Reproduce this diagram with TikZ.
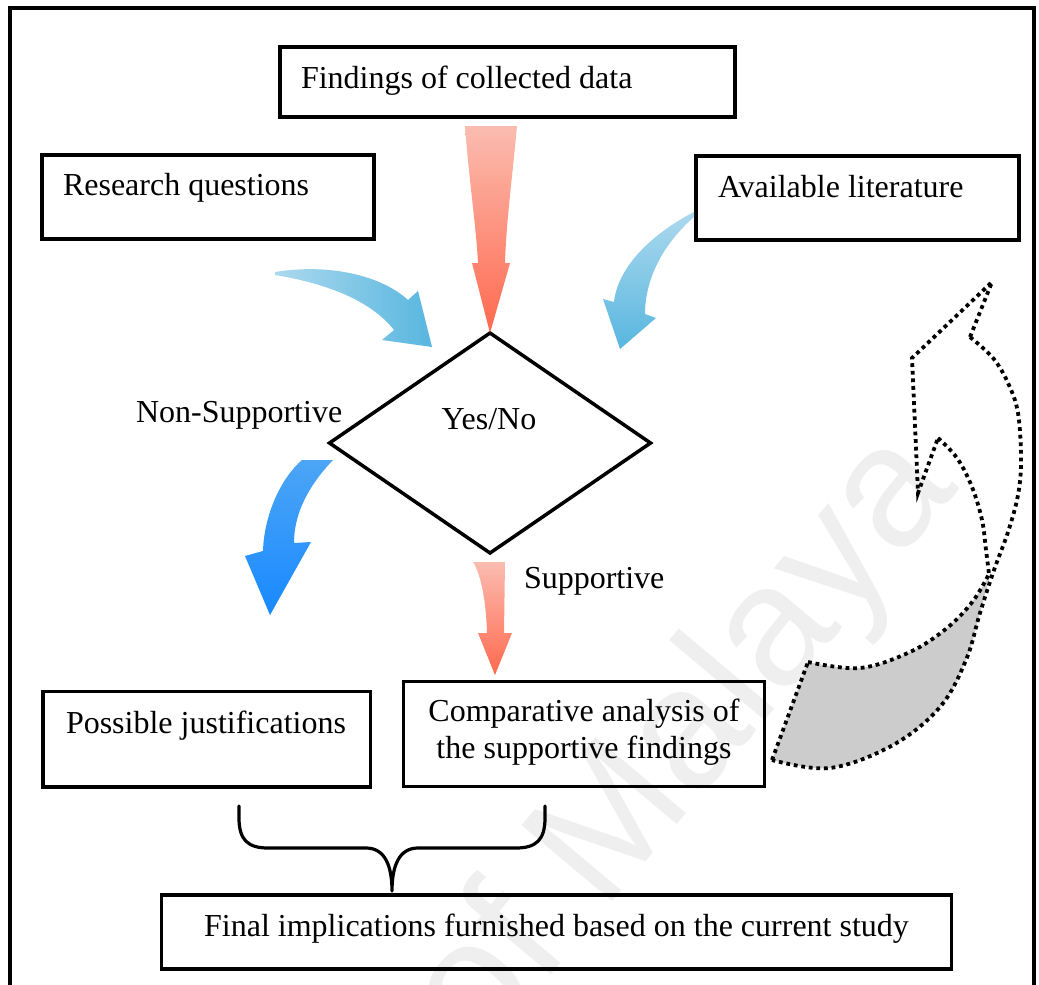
\documentclass[tikz,border=0pt]{standalone}
\usepackage{fontspec}
\usetikzlibrary{shapes.geometric}
\setmainfont{Liberation Serif}
\newfontfamily\wmfont{Liberation Sans}
\definecolor{redtop}{RGB}{251,188,176}
\definecolor{redbot}{RGB}{255,105,78}
\definecolor{skylt}{RGB}{172,217,238}
\definecolor{skydk}{RGB}{88,182,223}
\definecolor{bluelt}{RGB}{76,165,245}
\definecolor{bluedk}{RGB}{24,137,255}
\definecolor{foldgray}{RGB}{204,204,204}
\definecolor{wmgray}{RGB}{239,239,239}
\begin{document}
\begin{tikzpicture}[x=1pt,y=-1pt,
  every node/.style={inner sep=0pt, outer sep=0pt},
  box/.style={draw, line width=3.8pt, rectangle},
  txt/.style={font=\fontsize{32}{37}\selectfont},
  lbl/.style={txt, anchor=base west},
  dotline/.style={line width=3.8pt, dash pattern=on 3.8pt off 3.8pt, line cap=butt, line join=miter}]
\useasboundingbox (0,0) rectangle (1039,985);

% watermark
\node[font=\wmfont\fontsize{172}{172}\selectfont, text=wmgray, rotate=50, anchor=base east]
  (wm) at (960,488) {University of Malaya};

% outer frame
\draw[line width=4pt] (9.5,1000) -- (9.5,8) -- (1034,8) -- (1034,1000);

% boxes
\node[box, minimum width=455pt, minimum height=70pt] (find) at (507.5,82) {};
\node[box, minimum width=332pt, minimum height=84pt] (rq) at (208,197) {};
\node[box, minimum width=323pt, minimum height=84pt] (lit) at (857.5,198) {};
\node[box, minimum width=327.5pt, minimum height=95.5pt] (just) at (206.75,739.25) {};
\node[box, minimum width=361pt, minimum height=105pt] (comp) at (584,734) {};
\node[box, minimum width=790pt, minimum height=73.5pt] (final) at (556.5,932) {};

% decision
\node[diamond, draw, line width=3.5pt, minimum width=321pt, minimum height=220pt] (dec) at (490,443) {};

% texts
\node[lbl] (findT) at (301,88) {Findings of collected data};
\node[lbl] (rqT) at (63,195) {Research questions};
\node[lbl] (litT) at (718,197) {Available literature};
\node[txt, anchor=base] (decT) at (489,429) {Yes/No};
\node[lbl] (nonT) at (136,422) {Non-Supportive};
\node[lbl] (supT) at (524,588) {Supportive};
\node[lbl] (justT) at (66,733) {Possible justifications};
\node[txt, anchor=base] (compA) at (584,721) {Comparative analysis of};
\node[txt, anchor=base] (compB) at (584,758) {the supportive findings};
\node[txt, anchor=base] (finalT) at (556.5,936) {Final implications furnished based on the current study};

% block arrow: findings -> decision
\shade[top color=redtop, bottom color=redbot]
  (465,126) -- (517,126) .. controls (512,180) and (506,225) .. (505,263)
  -- (510,263) -- (490,333) -- (472,263) -- (478,263)
  .. controls (476,225) and (469,180) .. (465,126) -- cycle;

% block arrow: decision -> comparative analysis
\shade[top color=redtop, bottom color=redbot]
  (473,562) -- (505,562) -- (504,633) -- (512,633) -- (495,675) -- (478,633) -- (487,633)
  .. controls (486,600) and (481,575) .. (473,562) -- cycle;

% curved arrow: research questions -> decision
\shade[left color=skylt, right color=skydk]
  (275,272) .. controls (330,263) and (382,276) .. (408,300)
  -- (418,291) -- (432,347) -- (382,340) -- (394,330)
  .. controls (372,302) and (330,284) .. (275,275) -- cycle;

% curved arrow: literature -> decision
\shade[top color=skylt, bottom color=skydk]
  (694,212) .. controls (655,232) and (618,265) .. (614,302)
  -- (603,299) -- (620,349) -- (656,318) -- (645,314)
  .. controls (645,280) and (662,245) .. (694,217) -- cycle;

% curved arrow: non-supportive branch
\shade[top color=bluelt, bottom color=bluedk]
  (302,460) -- (333,460) .. controls (312,482) and (294,510) .. (294,543)
  -- (311,542) -- (270,615) -- (245,556) -- (263,551)
  .. controls (264,515) and (281,478) .. (302,460) -- cycle;

% brace joining the two lower boxes
\draw[line width=3.2pt, line cap=round, line join=round]
  (239,806) -- (239,818) .. controls (239,840) and (248,848) .. (268,848) -- (366,848)
  .. controls (385,848) and (392,866) .. (392,891)
  .. controls (392,866) and (399,848) .. (418,848) -- (516,848)
  .. controls (536,848) and (545,840) .. (545,818) -- (545,806);

% feedback ribbon arrow (dotted outline, shaded fold)
\fill[foldgray] plot[smooth, tension=0.6] coordinates {(991,572) (980,613) (966,660) (940,707) (893,745) (830,768) (772,760)}
  -- plot[smooth, tension=0.6] coordinates {(808,662) (860,668) (910,652) (947,628) (973,601) (991,572)} -- cycle;
\draw[dotline] plot[smooth, tension=0.6] coordinates {(970,337) (993,358) (1008,383) (1018,413) (1021,460) (1018,495) (1008,532) (994,570) (980,613) (966,660) (940,707) (893,745) (830,768) (772,760)};
\draw[dotline] (772,760) -- (808,662);
\draw[dotline] plot[smooth, tension=0.6] coordinates {(808,662) (860,668) (910,652) (947,628) (973,601) (989,574)};
\draw[dotline] (970,337) -- (992,282) -- (912,358) -- (918,493) -- (938,438);
\draw[dotline] plot[smooth, tension=0.6] coordinates {(938,438) (957,458) (972,487) (982,520) (986,550) (989,574)};
\end{tikzpicture}
\end{document}
